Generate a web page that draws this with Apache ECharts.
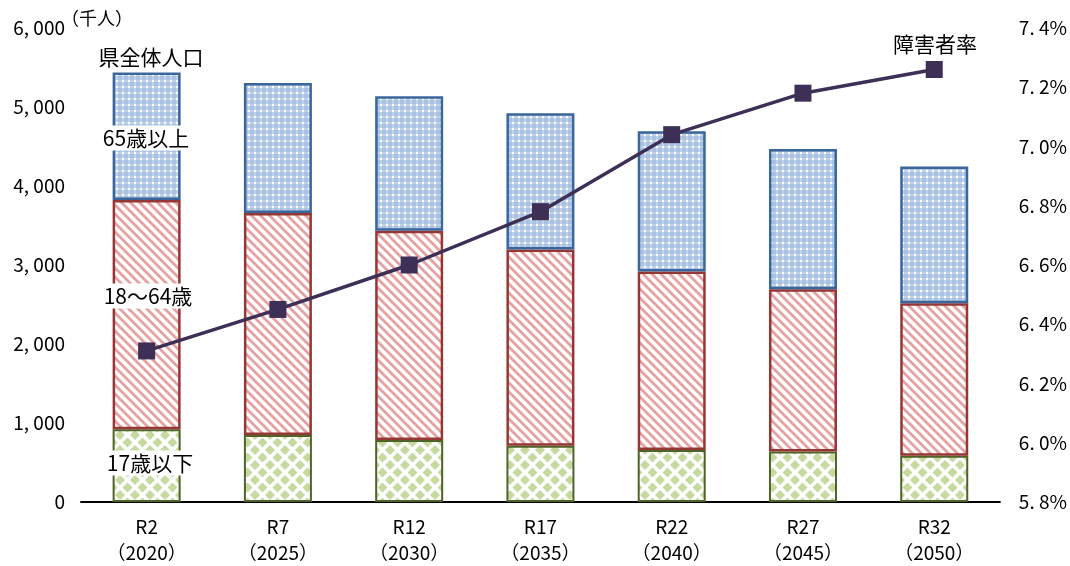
<!DOCTYPE html>
<html>
<head>
<meta charset="utf-8">
<script src="https://cdn.jsdelivr.net/npm/echarts@6/dist/echarts.min.js"></script>
<style>
  html, body { margin: 0; padding: 0; background: #fff; }
  #chart { width: 1070px; height: 566px; }
</style>
</head>
<body>
<div id="chart"></div>
<script>
// data (千人 / %)
const categories = ['R2\n（2020）', 'R7\n（2025）', 'R12\n（2030）', 'R17\n（2035）', 'R22\n（2040）', 'R27\n（2045）', 'R32\n（2050）'];
const under17 = [922, 847, 784, 713, 658, 638, 587];
const age18to64 = [2902, 2810, 2650, 2482, 2260, 2054, 1929];
const over65 = [1613, 1646, 1702, 1727, 1774, 1777, 1732];
const disabilityRate = [6.31, 6.45, 6.60, 6.78, 7.04, 7.18, 7.26];

const FONT = '"Noto Sans CJK JP", "Noto Sans", sans-serif';

function makePattern(kind) {
  let c = document.createElement('canvas');
  let ctx = c.getContext('2d');
  if (kind === 'green') {
    c.width = 15; c.height = 15;
    ctx.fillStyle = '#ffffff';
    ctx.fillRect(0, 0, 15, 15);
    ctx.fillStyle = '#c6da9f';
    let diamond = function (cx, cy) {
      ctx.beginPath();
      ctx.moveTo(cx, cy - 5);
      ctx.lineTo(cx + 5, cy);
      ctx.lineTo(cx, cy + 5);
      ctx.lineTo(cx - 5, cy);
      ctx.closePath();
      ctx.fill();
    };
    diamond(0, 0); diamond(15, 0); diamond(0, 15); diamond(15, 15); diamond(7.5, 7.5);
  } else if (kind === 'red') {
    c.width = 9; c.height = 9;
    ctx.fillStyle = '#ffffff';
    ctx.fillRect(0, 0, 9, 9);
    ctx.strokeStyle = '#e4a3a2';
    ctx.lineWidth = 2.8;
    for (let k = -9; k <= 18; k += 9) {
      ctx.beginPath();
      ctx.moveTo(k - 2, -2);
      ctx.lineTo(k + 11, 11);
      ctx.stroke();
    }
  } else {
    c.width = 6; c.height = 6;
    ctx.fillStyle = '#a9c2e2';
    ctx.fillRect(0, 0, 6, 6);
    ctx.fillStyle = '#d6e2f2';
    ctx.fillRect(0, 2.5, 6, 1);
    ctx.fillRect(2.5, 0, 1, 6);
    ctx.fillStyle = '#ffffff';
    ctx.fillRect(2, 2, 2, 2);
  }
  return { image: c, repeat: 'repeat' };
}

let myChart = echarts.init(document.getElementById('chart'));

let barCommon = {
  type: 'bar',
  stack: 'pop',
  barWidth: 68,
  yAxisIndex: 0
};

function note(text, x, y, boxed) {
  let style = {
    text: text, fontFamily: FONT, fontSize: 21, fill: '#000',
    align: 'center', verticalAlign: 'middle'
  };
  if (boxed) {
    style.backgroundColor = '#fff';
    style.padding = [2, 4];
  }
  return { type: 'text', z: 100, x: x, y: y, style: style };
}

let option = {
  animation: false,
  grid: { left: 81, right: 68, top: 28, bottom: 61 },
  xAxis: {
    type: 'category',
    data: categories,
    axisLine: { lineStyle: { color: '#000', width: 2 } },
    axisTick: { show: false },
    axisLabel: {
      color: '#000', fontFamily: FONT, fontSize: 19, lineHeight: 26, margin: 12
    }
  },
  yAxis: [
    {
      type: 'value',
      min: 0, max: 6000, interval: 1000,
      axisLine: { show: false },
      axisTick: { show: false },
      splitLine: { show: false },
      axisLabel: {
        color: '#000', fontFamily: FONT, fontSize: 19, margin: 16,
        formatter: function (v) { return v === 0 ? '0' : (v / 1000) + ', 000'; }
      }
    },
    {
      type: 'value',
      min: 5.8, max: 7.4, interval: 0.2,
      axisLine: { show: false },
      axisTick: { show: false },
      splitLine: { show: false },
      axisLabel: {
        color: '#000', fontFamily: FONT, fontSize: 19, margin: 19,
        formatter: function (v) { return v.toFixed(1).replace('.', '. ') + '%'; }
      }
    }
  ],
  series: [
    Object.assign({}, barCommon, {
      name: '17歳以下',
      data: under17,
      itemStyle: { color: makePattern('green'), borderColor: '#4f6228', borderWidth: 2 }
    }),
    Object.assign({}, barCommon, {
      name: '18〜64歳',
      data: age18to64,
      itemStyle: { color: makePattern('red'), borderColor: '#953735', borderWidth: 2.5 }
    }),
    Object.assign({}, barCommon, {
      name: '65歳以上',
      data: over65,
      itemStyle: { color: makePattern('blue'), borderColor: '#3a669b', borderWidth: 2.5 }
    }),
    {
      name: '障害者率',
      type: 'line',
      yAxisIndex: 1,
      data: disabilityRate,
      symbol: 'rect',
      symbolSize: 17,
      z: 5,
      lineStyle: { color: '#3d2f55', width: 3.5 },
      itemStyle: { color: '#3d2f55' }
    }
  ],
  graphic: {
    elements: [
      { type: 'text', z: 100, x: 97, y: 18, style: { text: '（千人）', fontFamily: FONT, fontSize: 18, fill: '#000', align: 'center', verticalAlign: 'middle' } },
      note('県全体人口', 151, 57, false),
      note('65歳以上', 146, 138, true),
      note('18〜64歳', 148, 296, true),
      note('17歳以下', 150, 463, true),
      note('障害者率', 935, 44, false)
    ]
  }
};

myChart.setOption(option);
</script>
</body>
</html>
